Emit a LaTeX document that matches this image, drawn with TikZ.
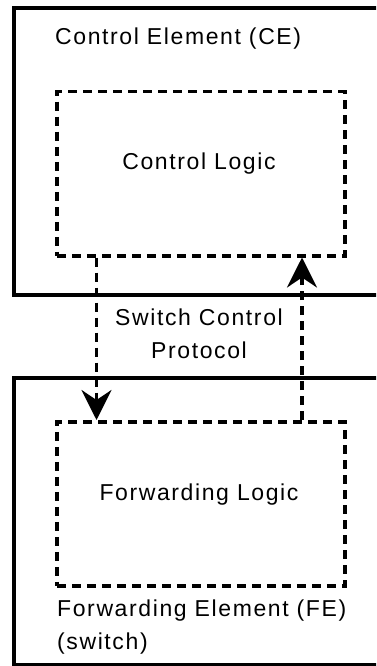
\documentclass[tikz,border=0pt]{standalone}
\usepackage{fontspec}
\setmainfont{Liberation Sans}[LetterSpace=7]
\usetikzlibrary{arrows.meta}

\tikzset{
  element/.style={line width=3.5pt},
  logicbox/.style={draw, line width=3.5pt, dash pattern=on 9pt off 6pt,
    minimum width=288pt, minimum height=164pt, inner sep=0pt, anchor=north west},
  protocol/.style={line width=3.5pt, dash pattern=on 9pt off 6pt,
    -{Stealth[length=30pt,width=30pt,inset=10pt]}},
  lbl/.style={font=\fontsize{23}{33}\selectfont, inner sep=0pt}
}

\begin{document}
\begin{tikzpicture}[x=1pt,y=-1pt]
\clip (0,0) rectangle (376,666);
%% two long rects for control element and forwarding element
\draw[element] (14,8) rectangle (392,295);
\draw[element] (14,378) rectangle (392,665);
\node[lbl, anchor=base west] (celabel) at (55,45) {Control Element (CE)};
%% base of a two line node is its last line
\node[lbl, anchor=base west, align=left] (felabel) at (57,649) {Forwarding Element (FE)\\(switch)};
%% dashed rects for the logic inside each element
\node[logicbox] (ctl) at (55,90) {};
\node[logicbox] (fwd) at (55,420) {};
\node[lbl, anchor=base] (ctltext) at (199,169) {Control Logic};
\node[lbl, anchor=base] (fwdtext) at (199,500) {Forwarding Logic};
%% protocol arrows between the two
\draw[protocol] ([xshift=41.5pt]ctl.south west) -- ([xshift=41.5pt]fwd.north west);
\draw[protocol] ([xshift=247pt]fwd.north west) -- ([xshift=247pt]ctl.south west);
\node[lbl, anchor=base, align=center] (proto) at (199,358) {Switch Control\\Protocol};
\end{tikzpicture}
\end{document}
